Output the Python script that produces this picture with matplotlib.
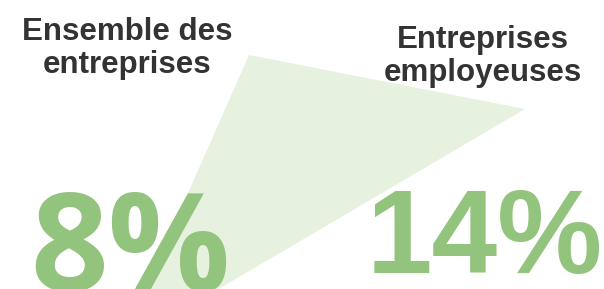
import matplotlib.pyplot as plt
from matplotlib.patches import Polygon

# data
groups = [['Ensemble des', 'entreprises'], ['Entreprises', 'employeuses']]
shares = [8, 14]
label_x = [127, 483]
label_base = [40, 48]

green = '#93c47d'
light_green = '#e6f1e0'
dark = '#333333'

fig = plt.figure(figsize=(6.04, 2.89), dpi=100)
ax = fig.add_axes([0, 0, 1, 1])
ax.set_xlim(0, 604)
ax.set_ylim(289, 0)
ax.axis('off')

# decorative wedge behind the numbers
wedge = Polygon([(249, 55), (525, 109), (120, 347)], closed=True,
                facecolor=light_green, edgecolor='none', zorder=0)
ax.add_patch(wedge)

for x, y0, lines in zip(label_x, label_base, groups):
    for i, line in enumerate(lines):
        ax.text(x, y0 + 33 * i, line, ha='center', va='baseline', fontsize=22.5,
                fontweight='bold', family='Liberation Sans', color=dark)

ax.text(30, 291, f'{shares[0]}%', ha='left', va='baseline', fontsize=98,
        fontweight='bold', family='Open Sans', color=green, zorder=2)
ax.text(603, 273, f'{shares[1]}%', ha='right', va='baseline', fontsize=85,
        fontweight='bold', family='Liberation Sans', color=green, zorder=2)

fig.savefig('out.png', dpi=100)
